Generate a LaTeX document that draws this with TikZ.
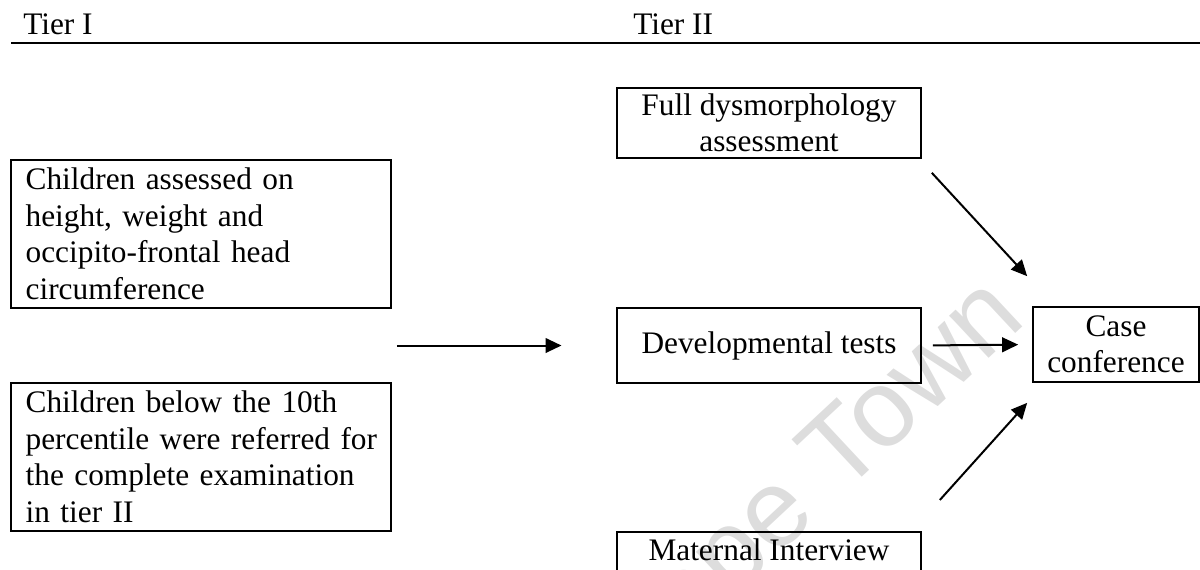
\documentclass[tikz,border=0pt]{standalone}
\usepackage{fontspec}
\setmainfont{Liberation Serif}
\newfontfamily\wmfont{Liberation Sans}
\usetikzlibrary{arrows.meta,calc}
\newcommand\ind{\hspace*{6pt}}
\tikzset{
  box/.style={draw, line width=1.25pt, font=\fontsize{23.5pt}{27.4pt}\selectfont},
  lbox/.style={box, align=left, text width=275pt, inner xsep=5pt, minimum height=111pt},
  cbox/.style={box, align=center, inner sep=2pt},
  arr/.style={line width=1.5pt, -{Triangle[length=12pt,width=11pt]}},
  lbl/.style={inner sep=0pt, font=\fontsize{23.5pt}{27.4pt}\selectfont},
  wm/.style={text=gray!27, font=\wmfont\fontsize{82pt}{82pt}\selectfont}
}
\begin{document}
\begin{tikzpicture}[x=0.75pt, y=-0.75pt]
\useasboundingbox (0,0) rectangle (1200,569);
\clip (0,0) rectangle (1200,569);
% watermark
\node[wm, rotate=43] (wmk) at (810,489) {Cape Town};
% header
\node[lbl, anchor=base west] (t1) at (23,34) {Tier I};
\node[lbl, anchor=base west] (t2) at (633,34) {Tier II};
\coordinate (rl) at (11,43);
\coordinate (rr) at (1200,43);
\draw[line width=1.75pt] (rl) -- (rr);
% tier I boxes
\node[lbox] (c1) at (201,234) {\ind Children assessed on\\\ind height, weight and\\\ind occipito-frontal head\\\ind circumference};
\node[lbox] (c2) at (201,457) {\ind Children below the 10th\\\ind percentile were referred for\\\ind the complete examination\\\ind in tier II};
% tier II boxes
\node[cbox, minimum width=228pt, minimum height=52.5pt] (full) at (769,123) {Full dysmorphology\\assessment};
\node[cbox, minimum width=228pt, minimum height=56.25pt] (dev) at (769,345.5) {Developmental tests};
\node[box, anchor=north, minimum width=228pt, inner xsep=2pt, inner ysep=5.5pt, text depth=60pt] (mat) at (769,531) {Maternal Interview};
\node[cbox, minimum width=124.5pt, minimum height=56.25pt] (case) at (1116,344.5) {Case\\conference};
% connectors
\coordinate (gap) at ($(c1.south east)!0.5!(c2.north east)$);
\draw[arr, shorten <=3.75pt, shorten >=41pt] (gap) -- (dev.west |- gap);
\draw[arr, shorten <=8.25pt, shorten >=10.5pt] (dev.east) -- (case.west);
\draw[arr] ($(full.south east)+(10,14)$) -- ($(case.north west)+(-5,-30)$);
\draw[arr] ($(mat.north east)+(18,-31)$) -- ($(case.south west)+(-5,20)$);
\end{tikzpicture}
\end{document}
